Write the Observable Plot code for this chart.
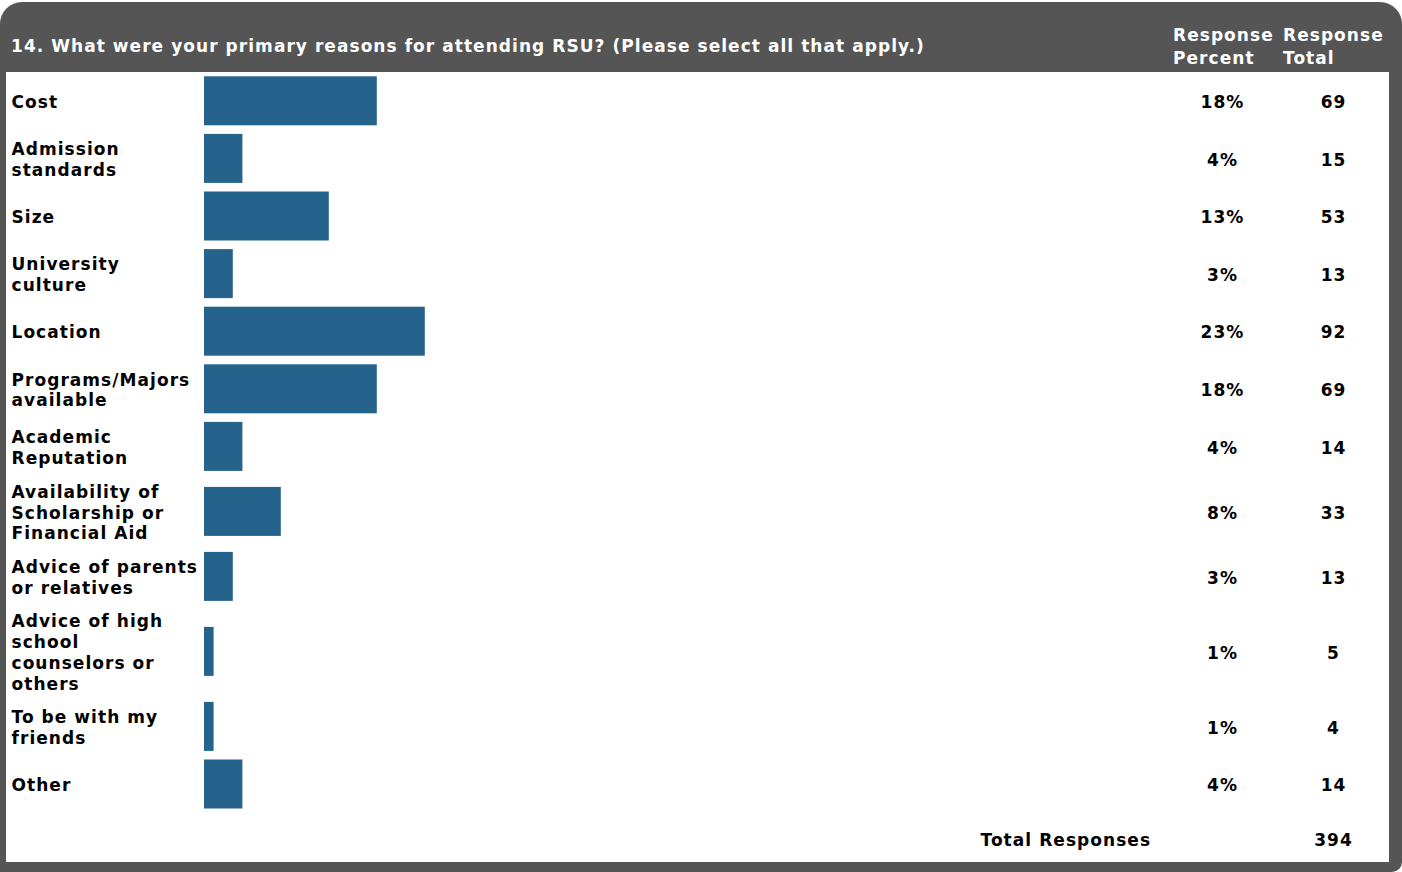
<!DOCTYPE html>
<html>
<head>
<meta charset="utf-8">
<script src="https://cdn.jsdelivr.net/npm/d3@7"></script>
<script src="https://cdn.jsdelivr.net/npm/@observablehq/plot@0.6"></script>
<style>
  html, body { margin: 0; padding: 0; background: #ffffff; }
  body { width: 1402px; height: 872px; position: relative; overflow: hidden;
         font-family: Verdana, "DejaVu Sans", sans-serif; font-weight: bold; }
  #frame { position: absolute; left: 0; top: 2px; width: 1402px; height: 870px;
           background: #555555; border-radius: 22px 22px 10px 0; }
  #inner { position: absolute; left: 6px; top: 72px; width: 1383px; height: 790px; background: #ffffff; }
  .hdr { position: absolute; color: #ffffff; font-size: 17px; letter-spacing: 1.05px; line-height: 23px; white-space: nowrap; }
  #chart svg { display: block; }
</style>
</head>
<body>
<div id="frame"></div>
<div id="inner"><div id="chart"></div></div>
<div class="hdr" id="title" style="left:11px; top:35px;"></div>
<div class="hdr" id="h1" style="left:1173px; top:24px;"></div>
<div class="hdr" id="h2" style="left:1283px; top:24px;"></div>
<script>
const title = "14. What were your primary reasons for attending RSU? (Please select all that apply.)";
const columnHeaders = ["Response\nPercent", "Response\nTotal"];
const categories = [
  "Cost",
  "Admission\nstandards",
  "Size",
  "University\nculture",
  "Location",
  "Programs/Majors\navailable",
  "Academic\nReputation",
  "Availability of\nScholarship or\nFinancial Aid",
  "Advice of parents\nor relatives",
  "Advice of high\nschool\ncounselors or\nothers",
  "To be with my\nfriends",
  "Other"
];
const percents = [18, 4, 13, 3, 23, 18, 4, 8, 3, 1, 1, 4];
const totals = [69, 15, 53, 13, 92, 69, 14, 33, 13, 5, 4, 14];
const totalLabel = "Total Responses";
const totalResponses = 394;

document.getElementById("title").textContent = title;
document.getElementById("h1").innerHTML = columnHeaders[0].replace("\n", "<br>");
document.getElementById("h2").innerHTML = columnHeaders[1].replace("\n", "<br>");

// row layout derived from number of label lines
let cursor = 0;
const rows = categories.map((c, i) => {
  const lines = c.split("\n").length;
  const h = Math.max(57.6, lines * 20 + 12.4);
  const center = cursor + h / 2;
  cursor += h;
  return {label: c, pct: percents[i], total: totals[i], center, y1: center - 24.5, y2: center + 24.5};
});
const footer = [{label: totalLabel, total: totalResponses, center: cursor + 26}];

const W = 1383, H = 790;
const font = "Verdana, 'DejaVu Sans', sans-serif";
const textOpts = {fontSize: 17, fontWeight: "bold", fill: "#000", lineHeight: 1.23, lineAnchor: "middle"};

const chart = Plot.plot({
  width: W, height: H,
  margin: 0,
  style: {fontFamily: font, background: "transparent", overflow: "visible", letterSpacing: "1.05px"},
  x: {domain: [0, 100], range: [198, 1158], axis: null},
  y: {type: "identity", axis: null},
  marks: [
    Plot.rectX(rows, {x1: 0, x2: "pct", y1: "y1", y2: "y2", fill: "#25638c"}),
    Plot.text(rows, {text: "label", y: "center", frameAnchor: "left", dx: 5, textAnchor: "start", ...textOpts}),
    Plot.text(rows, {text: d => d.pct + "%", y: "center", frameAnchor: "left", dx: 1216, textAnchor: "middle", ...textOpts}),
    Plot.text(rows, {text: d => String(d.total), y: "center", frameAnchor: "left", dx: 1327, textAnchor: "middle", ...textOpts}),
    Plot.text(footer, {text: "label", y: "center", frameAnchor: "left", dx: 974, textAnchor: "start", ...textOpts}),
    Plot.text(footer, {text: d => String(d.total), y: "center", frameAnchor: "left", dx: 1327, textAnchor: "middle", ...textOpts})
  ]
});
document.getElementById("chart").appendChild(chart);
</script>
</body>
</html>
